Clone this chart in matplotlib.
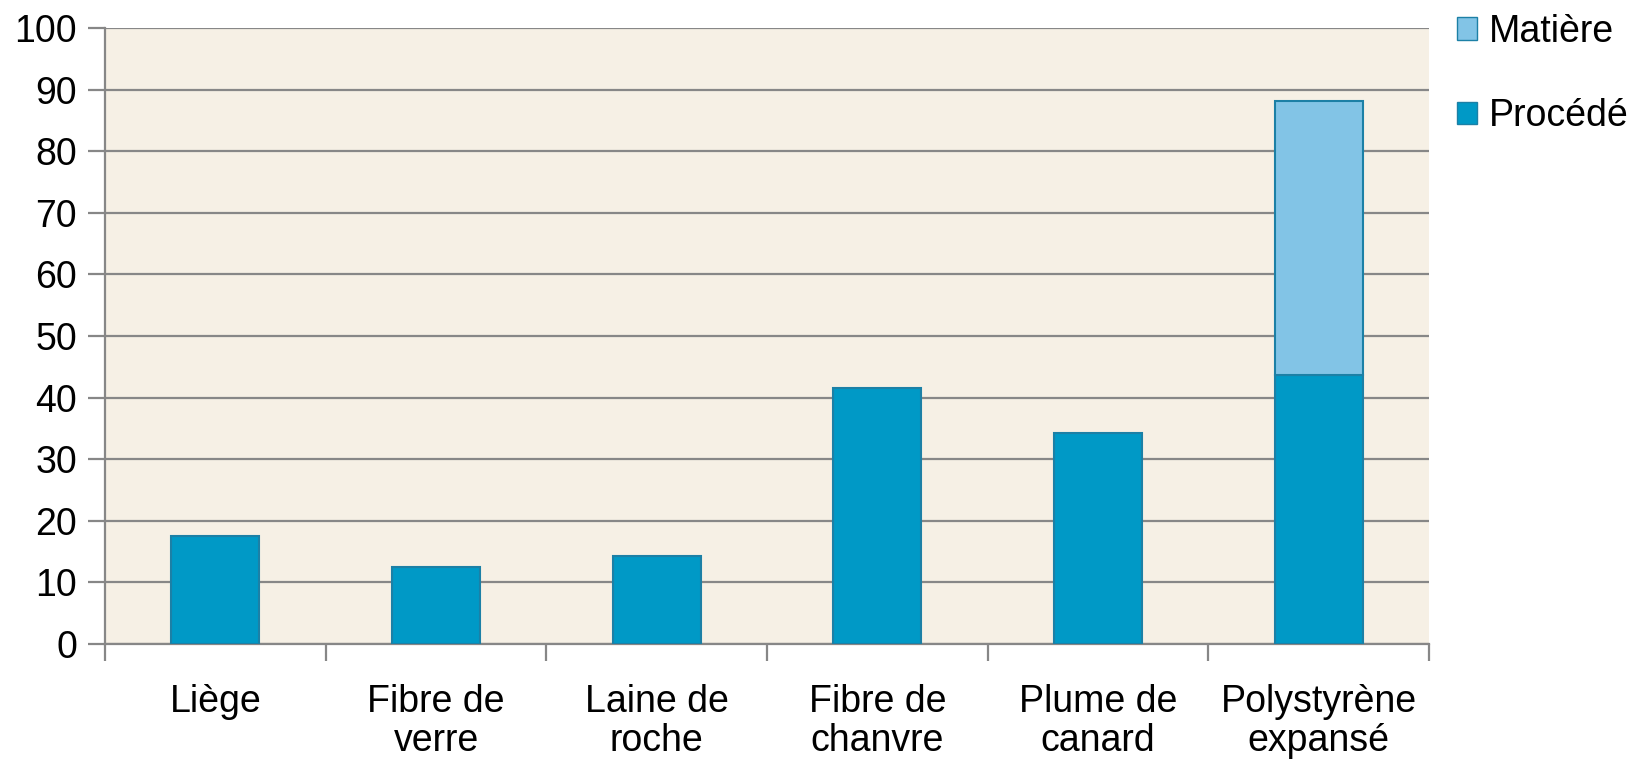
import numpy as np
import matplotlib.pyplot as plt
from matplotlib.patches import Patch

plt.rcParams['font.family'] = ['Liberation Sans', 'DejaVu Sans']

categories = ['Liège', 'Fibre de\nverre', 'Laine de\nroche', 'Fibre de\nchanvre',
              'Plume de\ncanard', 'Polystyrène\nexpansé']
procede = [17.6, 12.5, 14.3, 41.6, 34.3, 43.7]
matiere = [0, 0, 0, 0, 0, 44.4]

c_procede = '#0099C6'
c_matiere = '#82C4E6'
c_edge = '#1C80A6'
grid_c = '#878787'

fig = plt.figure(figsize=(16.3, 7.61), dpi=100)
ax = fig.add_axes([105 / 1630, 1 - 644 / 761, (1429 - 105) / 1630, (644 - 28) / 761])
ax.set_facecolor('#F6F0E5')

x = np.arange(len(categories))
w = 0.40
ax.bar(x, procede, w, color=c_procede, edgecolor=c_edge, linewidth=1.5, zorder=3)
mask = np.array(matiere) > 0
ax.bar(x[mask], np.array(matiere)[mask], w, bottom=np.array(procede)[mask],
       color=c_matiere, edgecolor=c_edge, linewidth=1.5, zorder=3)

ax.set_xlim(-0.5, len(categories) - 0.5)
ax.set_ylim(0, 100)
ax.set_yticks(range(0, 101, 10))
ax.yaxis.grid(True, color=grid_c, linewidth=1.6, zorder=1)
ax.set_axisbelow(True)

for s in ['top', 'right']:
    ax.spines[s].set_visible(False)
for s in ['left', 'bottom']:
    ax.spines[s].set_color(grid_c)
    ax.spines[s].set_linewidth(1.6)

# category ticks at boundaries, labels at centres
ax.set_xticks(np.arange(-0.5, len(categories), 1.0))
ax.set_xticklabels([])
ax.set_xticks(x, minor=True)
ax.set_xticklabels(categories, minor=True, fontsize=27, linespacing=1.1)
ax.tick_params(axis='x', which='major', length=12, width=1.6, color=grid_c)
ax.tick_params(axis='x', which='minor', length=0, pad=29)
ax.tick_params(axis='y', length=12, width=1.6, color=grid_c, labelsize=27, pad=8)

handles = [Patch(facecolor=c_matiere, edgecolor=c_edge, label='Matière'),
           Patch(facecolor=c_procede, edgecolor=c_edge, label='Procédé')]
fig.legend(handles=handles, loc='upper left', bbox_to_anchor=(1449 / 1630, 1 - 6 / 761),
           frameon=False, fontsize=27, handlelength=0.55, handleheight=0.55,
           handletextpad=0.3, labelspacing=1.3, borderaxespad=0, borderpad=0.2)

fig.savefig('out.png', dpi=100, facecolor='white')
